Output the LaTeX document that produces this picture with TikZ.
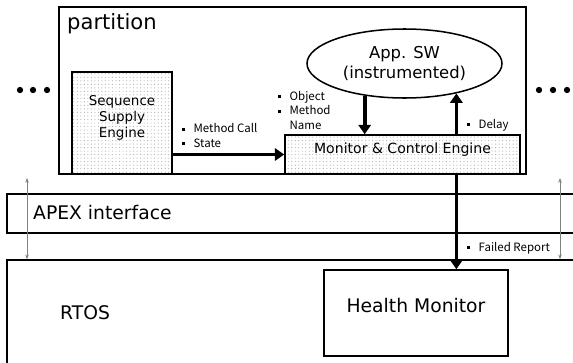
\documentclass[tikz,border=0pt]{standalone}
\usepackage{fontspec}
\setmainfont{DejaVu Sans}
\newfontfamily\notefont{Noto Sans CJK KR}
\usetikzlibrary{arrows.meta, positioning, fit, shapes.geometric, patterns}

\newcommand{\sqb}{\rule[0.2em]{2.6pt}{2.6pt}}
\newcommand{\bul}[1]{\sqb\hspace{7pt}#1}

\begin{document}
\begin{tikzpicture}[x=0.03cm, y=-0.03cm,
	frame/.style={draw, line width=1.3pt, inner sep=0pt},
	title/.style={font=\fontsize{16}{18}\selectfont, inner sep=0pt},
	engine/.style={frame, pattern=dots, pattern color=gray!65, align=center, font=\fontsize{11.5}{13.6}\selectfont},
	big/.style={line width=3.2pt, -{Triangle[length=8pt, width=10.5pt]}},
	gap/.style={draw=gray, line width=0.6pt, {Stealth[length=4pt, width=3pt]}-{Stealth[length=4pt, width=3pt]}},
	note/.style={font=\notefont\fontsize{9.8}{12.2}\selectfont, align=left, inner sep=1pt}]
	\useasboundingbox (0,0) rectangle (573,362);
	% partition and the layers below it
	\node[frame, line width=1.5pt, fit={(59,7) (526,174)}] (part) {};
	\node[title, font=\fontsize{18}{20}\selectfont, anchor=west] (partlbl) at (67,24) {partition};
	\node[frame, fit={(7,194) (580,233)}] (apex) {};
	\node[title, anchor=west] (apexlbl) at (33,213) {APEX interface};
	\node[frame, fit={(7,260) (580,372)}] (rtos) {};
	\node[title, anchor=west] (rtoslbl) at (60,313) {RTOS};
	\node[frame, title, fit={(324,270) (508,356)}] (hm) {Health Monitor};
	% engines and application
	\node[engine, fit={(72,72) (172,174)}] (sse) {Sequence\\Supply\\Engine};
	\node[engine, font=\fontsize{12}{14}\selectfont, fit={(285,135) (520,174)}] (mce) {Monitor \& Control Engine};
	\node[ellipse, draw, line width=1.3pt, minimum width=5.85cm, minimum height=2.07cm, inner sep=0pt,
		align=center, font=\fontsize{14}{16.5}\selectfont] (app) at (404.5,63.5) {App. SW\\(instrumented)};
	\draw[big] (sse.east |- mce.west) -- (mce.west);
	\draw[big] (app.219) -- (app.219 |- mce.north);
	\draw[big] (mce.north -| app.330) -- (app.330);
	\draw[big] (mce.south -| app.330) -- (hm.north -| app.330);
	% gaps between the layers
	\coordinate (gl) at (27,178);
	\coordinate (gr) at (560,178);
	\draw[gap] (gl) -- (gl |- rtos.north);
	\draw[gap] (gr) -- (gr |- rtos.north);
	% labels
	\node[note, anchor=west] (callnote) at (181,135.5) {\bul{Method Call}\\\bul{State}};
	\node[note, anchor=west] (objnote) at (277,110.5) {\bul{Object}\\\bul{Method}\\\hphantom{\bul{}}Name};
	\node[note, anchor=west] (delaynote) at (466,125) {\bul{Delay}};
	\node[note, anchor=west] (failnote) at (466,248) {\bul{Failed Report}};
	\foreach \x in {20,33,47,539,553,567} \fill (\x,90) circle (2.7pt);
\end{tikzpicture}
\end{document}
